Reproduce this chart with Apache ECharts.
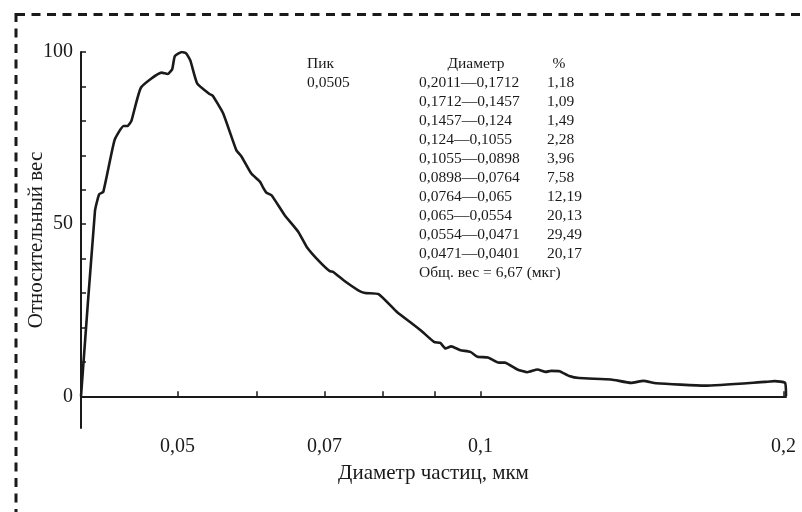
<!DOCTYPE html>
<html>
<head>
<meta charset="utf-8">
<script src="https://cdn.jsdelivr.net/npm/echarts@6/dist/echarts.min.js"></script>
<style>html,body{margin:0;padding:0;background:#fff;}#c{width:802px;height:512px;}</style>
</head>
<body>
<div id="c"></div>
<script>
// Diameter (µm) and relative weight
const diameters = [0.0401,0.0414,0.0418,0.0422,0.0433,0.0442,0.0446,0.0450,0.0460,0.0482,0.0489,0.0494,0.0497,0.0505,0.0510,0.0515,0.0523,0.0538,0.0542,0.0555,0.0572,0.0579,0.0592,0.0604,0.0608,0.0613,0.0620,0.0639,0.0659,0.0672,0.0690,0.0708,0.0714,0.0731,0.0756,0.0768,0.0792,0.0826,0.0851,0.0872,0.0899,0.0912,0.0923,0.0935,0.0955,0.0977,0.0993,0.1017,0.1043,0.1057,0.1088,0.1113,0.1139,0.1161,0.1175,0.1198,0.1225,0.1253,0.1348,0.1411,0.1451,0.1495,0.1671,0.1916,0.1960,0.2007,0.2011];
const weights = [0,53.8,58.7,59.4,74.4,78.5,78.5,80.0,89.7,94.0,93.6,95.0,98.8,100.0,99.6,97.5,90.9,87.8,87.3,82.2,71.5,69.6,64.7,62.3,60.7,59.1,58.4,52.6,47.8,43.4,39.5,36.4,36.1,33.7,30.8,30.0,29.7,24.5,21.6,19.2,15.8,15.5,13.9,14.5,13.4,12.9,11.5,11.3,9.8,9.8,7.8,7.0,7.8,7.1,7.4,7.3,5.9,5.3,4.9,3.9,4.5,3.8,3.1,4.2,4.4,3.9,0];
const xLabelTicks = [0.05, 0.07, 0.1, 0.2];
const xTicks = [0.05, 0.06, 0.07, 0.08, 0.09, 0.1, 0.2];
const yLabelTicks = [0, 50, 100];
const yTicks = [0, 10, 20, 30, 40, 50, 60, 70, 80, 90, 100];
const peakLabel = ['Пик', '0,0505'];
const rangeLabels = ['0,2011—0,1712','0,1712—0,1457','0,1457—0,124','0,124—0,1055','0,1055—0,0898','0,0898—0,0764','0,0764—0,065','0,065—0,0554','0,0554—0,0471','0,0471—0,0401'];
const percents = ['1,18','1,09','1,49','2,28','3,96','7,58','12,19','20,13','29,49','20,17'];
const totalLabel = 'Общ. вес = 6,67 (мкг)';

const FONT = '"Liberation Serif","Times New Roman",serif';
const INK = '#1a1a1a';
const fmt = v => String(v).replace('.', ',');

const graphics = [];
graphics.push({type:'rect', shape:{x:16, y:14.5, width:820, height:540}, style:{fill:'none', stroke:INK, lineWidth:3, lineDash:[9,6.5]}, silent:true});
const rowY0 = 64, rowDy = 19;
function txt(x, y, s, align) {
  graphics.push({type:'text', x:x, y:y, style:{text:s, font:'15.5px ' + FONT, fill:INK, align:align||'left', verticalAlign:'middle'}, silent:true});
}
txt(307, rowY0, peakLabel[0]);
txt(307, rowY0 + rowDy, peakLabel[1]);
txt(476, rowY0, 'Диаметр', 'center');
txt(559, rowY0, '%', 'center');
rangeLabels.forEach((r, i) => { txt(419, rowY0 + rowDy*(i+1), r); txt(547, rowY0 + rowDy*(i+1), percents[i]); });
txt(419, rowY0 + rowDy*11, totalLabel);

const chart = echarts.init(document.getElementById('c'), null, {renderer:'canvas'});
chart.setOption({
  animation:false,
  backgroundColor:'#fff',
  grid:{left:81, right:16, top:52, bottom:84, containLabel:false},
  xAxis:{
    type:'log', logBase:10, min:0.0401, max:0.2011,
    name:'Диаметр частиц, мкм', nameLocation:'middle', nameGap:35,
    nameTextStyle:{fontFamily:FONT, fontSize:21, color:INK},
    axisLine:{show:true, lineStyle:{color:INK, width:2}},
    axisTick:{show:true, inside:true, length:5, lineStyle:{color:INK, width:1.5}, customValues:xTicks},
    axisLabel:{show:true, fontFamily:FONT, fontSize:20, color:INK, margin:9, customValues:xLabelTicks, formatter:v => fmt(v)},
    splitLine:{show:false}, minorTick:{show:false}
  },
  yAxis:{
    type:'value', min:-9.2, max:100,
    name:'Относительный вес', nameLocation:'middle', nameGap:34, nameMoveOverlap:false,
    nameTextStyle:{fontFamily:FONT, fontSize:21, color:INK},
    axisLine:{show:true, lineStyle:{color:INK, width:2}},
    axisTick:{show:true, inside:true, length:5, lineStyle:{color:INK, width:1.5}, customValues:yTicks},
    axisLabel:{show:true, fontFamily:FONT, fontSize:20, color:INK, margin:8, customValues:yLabelTicks},
    splitLine:{show:false}
  },
  series:[{
    type:'line', data:diameters.map((d,i)=>[d, weights[i]]),
    showSymbol:false, smooth:0.15,
    lineStyle:{color:INK, width:2.6, join:'round'},
    markLine:{silent:true, symbol:'none', label:{show:false}, lineStyle:{color:INK, width:1.5, type:'solid'}, data:[{yAxis:0}]}
  }],
  graphic:graphics
});
</script>
</body>
</html>
